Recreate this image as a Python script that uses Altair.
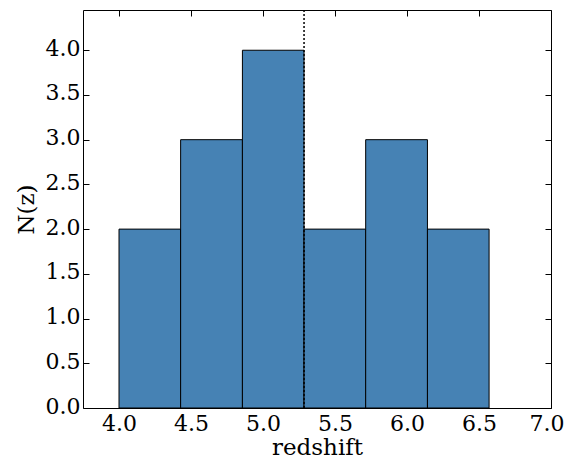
import altair as alt
import pandas as pd

# histogram data
bin_edges = [4.0, 4.428, 4.857, 5.285, 5.713, 6.142, 6.57]
counts = [2, 3, 4, 2, 3, 2]
marker_z = [5.285]
x_ticks = [4.0, 4.5, 5.0, 5.5, 6.0, 6.5, 7.0]
y_ticks = [0.0, 0.5, 1.0, 1.5, 2.0, 2.5, 3.0, 3.5, 4.0]

bars_df = pd.DataFrame({
    "z0": bin_edges[:-1],
    "z1": bin_edges[1:],
    "n": counts,
})
marker_df = pd.DataFrame({"z": marker_z})

FONT = "DejaVu Serif"
TICK = 6

xscale = alt.Scale(domain=[3.75, 7.0], nice=False, zero=False)
yscale = alt.Scale(domain=[0, 4.45], nice=False)

common_axis = dict(grid=False, domain=False, ticks=True, tickSize=TICK, offset=-TICK,
                   tickColor="black", tickWidth=1, labelOverlap=False)

x_bottom = alt.Axis(values=x_ticks, format=".1f", title="redshift", labelPadding=5,
                    titlePadding=2, labelFlush=1, labelFlushOffset=13, **common_axis)
y_left = alt.Axis(values=y_ticks, format=".1f", title="N(z)", labelPadding=3,
                  titlePadding=7, labelOffset=-2, labelFlush=False, **common_axis)
x_top = alt.Axis(values=x_ticks, orient="top", labels=False, title=None, **common_axis)
y_right = alt.Axis(values=y_ticks, orient="right", labels=False, title=None, **common_axis)

bars = alt.Chart(bars_df).mark_bar(color="#4682b4", stroke="black", strokeWidth=1).encode(
    x=alt.X("z0:Q", scale=xscale, axis=x_bottom),
    x2="z1:Q",
    y=alt.Y("n:Q", scale=yscale, axis=y_left),
    y2=alt.datum(0),
)

frame = alt.Chart(bars_df).mark_bar(opacity=0).encode(
    x=alt.X("z0:Q", scale=xscale, axis=x_top),
    x2="z1:Q",
    y=alt.Y("n:Q", scale=yscale, axis=y_right),
    y2=alt.datum(0),
)

marker = alt.Chart(marker_df).mark_rule(color="black", strokeWidth=1.5, strokeDash=[2, 2]).encode(
    x=alt.X("z:Q", scale=xscale, axis=None),
)

chart = alt.layer(bars, frame, marker).resolve_axis(
    x="independent", y="independent"
).properties(
    width=468,
    height=398,
    autosize=alt.AutoSizeParams(type="none"),
    padding={"left": 75, "top": 2, "right": 14, "bottom": 56},
).configure_view(
    stroke="black", strokeWidth=1
).configure_axis(
    labelFont=FONT, titleFont=FONT, labelFontSize=22, titleFontSize=23,
    labelColor="black", titleColor="black", titleFontWeight="normal",
)

chart.save("out.html", embed_options={"renderer": "svg", "actions": False})
